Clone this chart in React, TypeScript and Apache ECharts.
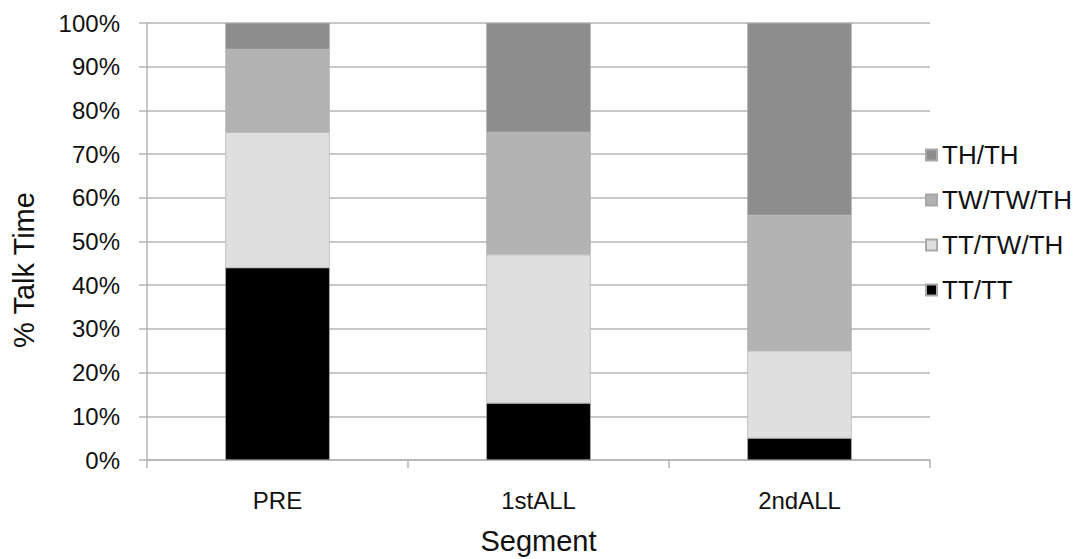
import React, { useEffect, useRef } from "react";
import * as echarts from "echarts";

const categories = ["PRE", "1stALL", "2ndALL"];
const ttTT = [44, 13, 5];
const ttTwTh = [31, 34, 20];
const twTwTh = [19, 28, 31];
const thTH = [6, 25, 44];
const yTicks = [0, 10, 20, 30, 40, 50, 60, 70, 80, 90, 100];
const legendOrder = ["TH/TH", "TW/TW/TH", "TT/TW/TH", "TT/TT"];
const yTitle = "% Talk Time";
const xTitle = "Segment";

const FONT = "Liberation Sans, Arial, sans-serif";

export default function App() {
  const ref = useRef<HTMLDivElement>(null);
  useEffect(() => {
    if (!ref.current) return;
    const chart = echarts.init(ref.current, null, { renderer: "svg" });
    const mk = (name: string, data: number[], color: string) => ({
      name,
      type: "bar",
      stack: "total",
      data,
      barWidth: "40%",
      itemStyle: { color, borderColor: "#a8a8a8", borderWidth: 0.6 },
    });
    chart.setOption({
      animation: false,
      textStyle: { fontFamily: FONT },
      grid: { left: 147, right: 146, top: 23, bottom: 99, outerBoundsMode: "none", containLabel: false },
      legend: {
        orient: "vertical",
        left: 920,
        top: 137,
        itemWidth: 11,
        itemHeight: 11,
        itemGap: 19,
        icon: "rect",
        textStyle: { fontSize: 26, lineHeight: 26, color: "#111", fontFamily: FONT, padding: [0, 0, 0, 0] },
        data: legendOrder,
      },
      graphic: [
        {
          type: "text",
          x: 24,
          y: 270,
          rotation: Math.PI / 2,
          style: {
            text: yTitle,
            fontSize: 29,
            fontFamily: FONT,
            fill: "#111",
            textAlign: "center",
            textVerticalAlign: "middle",
          },
        },
      ],
      xAxis: {
        type: "category",
        data: categories,
        name: xTitle,
        nameLocation: "middle",
        nameGap: 66,
        nameTextStyle: { fontSize: 29, color: "#111", fontFamily: FONT },
        axisLine: { lineStyle: { color: "#b5b5b5", width: 1.5 } },
        axisTick: { show: true, length: 8, lineStyle: { color: "#b5b5b5", width: 1.5 } },
        axisLabel: { fontSize: 24, color: "#111", margin: 28, fontFamily: FONT },
      },
      yAxis: {
        type: "value",
        min: yTicks[0],
        max: yTicks[yTicks.length - 1],
        interval: 10,
        axisLine: { show: true, lineStyle: { color: "#b5b5b5", width: 1.5 } },
        axisTick: { show: true, length: 8, lineStyle: { color: "#b5b5b5", width: 1.5 } },
        splitLine: { lineStyle: { color: "#b5b5b5", width: 1.5 } },
        axisLabel: {
          fontSize: 24,
          color: "#111",
          margin: 27,
          fontFamily: FONT,
          formatter: (v: number) => `${v}%`,
        },
      },
      series: [
        mk("TT/TT", ttTT, "#000000"),
        mk("TT/TW/TH", ttTwTh, "#dfdfdf"),
        mk("TW/TW/TH", twTwTh, "#b3b3b3"),
        mk("TH/TH", thTH, "#8d8d8d"),
      ],
    });
    return () => chart.dispose();
  }, []);
  return <div ref={ref} style={{ width: 1076, height: 559, position: "absolute", left: 0, top: 0, background: "#fff" }} />;
}
